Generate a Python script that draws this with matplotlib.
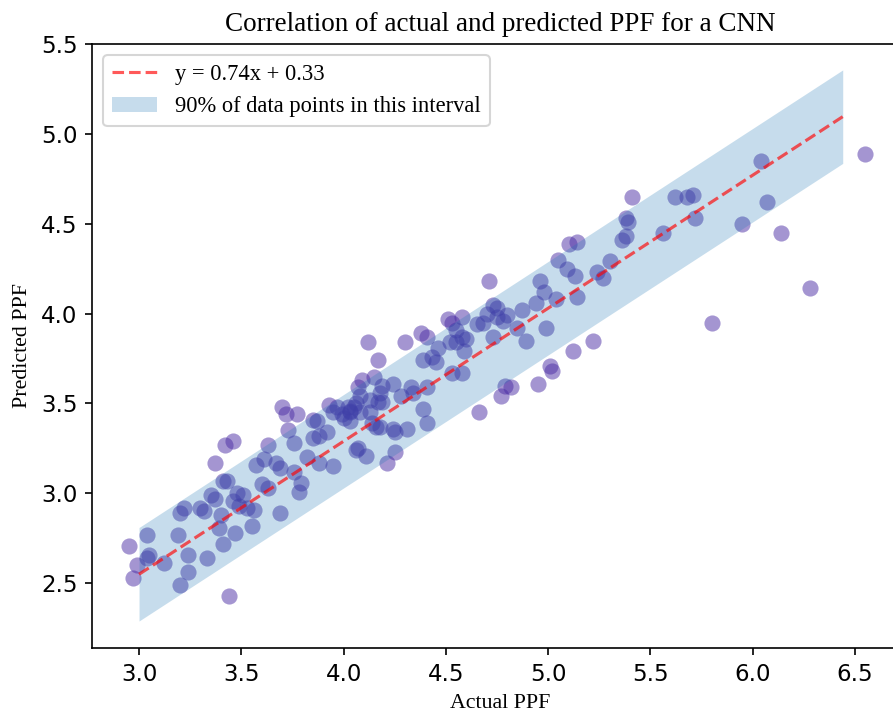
import matplotlib
matplotlib.use("Agg")
import matplotlib.pyplot as plt
import numpy as np

# actual / predicted PPF values
actual = [2.95, 3.04, 2.99, 2.97, 3.04, 3.05, 3.12, 3.20, 3.24, 3.24,
          3.19, 3.33, 3.44, 3.41, 3.39, 3.47, 3.55, 3.20, 3.22, 3.30,
          3.32, 3.35, 3.37, 3.41, 3.43, 3.40, 3.48, 3.51, 3.53, 3.56,
          3.49, 3.42, 3.46, 3.37, 3.57, 3.46, 3.61, 3.67, 3.69, 3.63,
          3.76, 3.79, 3.78, 3.76, 3.85, 3.88, 3.92, 3.95, 3.70, 3.72,
          3.77, 3.73, 3.85, 3.87, 3.93, 3.95, 4.02, 4.03, 4.06, 4.07,
          3.69, 3.60, 3.63, 3.82, 3.88, 4.00, 4.11, 4.12, 4.17, 4.15,
          4.30, 4.38, 4.41, 4.51, 4.53, 4.58, 4.55, 4.58, 4.52, 4.55,
          4.60, 4.59, 4.46, 4.43, 4.39, 4.45, 4.53, 4.58, 4.41, 4.39,
          4.41, 4.34, 4.33, 4.28, 4.24, 4.19, 4.18, 4.17, 4.13, 4.08,
          4.09, 4.06, 4.03, 3.99, 4.08, 4.13, 4.16, 4.24, 4.25, 4.31,
          4.25, 4.21, 4.07, 4.19, 4.05, 3.97, 4.03, 4.14, 4.18, 4.71,
          4.65, 4.68, 4.70, 4.73, 4.75, 4.75, 4.78, 4.80, 4.66, 4.77,
          4.79, 4.82, 4.95, 5.01, 5.02, 5.12, 5.22, 4.89, 4.99, 4.85,
          4.87, 4.94, 4.98, 4.96, 5.04, 5.14, 5.05, 5.09, 5.13, 5.24,
          5.27, 5.30, 5.10, 5.14, 5.38, 5.39, 5.36, 5.38, 5.41, 5.56,
          5.62, 5.68, 5.71, 5.72, 5.80, 5.95, 6.04, 6.07, 6.14, 6.28,
          6.55, 4.73]
predicted = [2.71, 2.77, 2.60, 2.53, 2.64, 2.66, 2.61, 2.49, 2.56, 2.66,
             2.77, 2.64, 2.43, 2.72, 2.81, 2.78, 2.82, 2.89, 2.92, 2.92,
             2.90, 2.99, 2.97, 3.07, 3.07, 2.88, 3.00, 2.99, 2.92, 2.91,
             2.93, 3.27, 3.29, 3.17, 3.16, 2.96, 3.19, 3.17, 3.14, 3.27,
             3.12, 3.06, 3.01, 3.28, 3.31, 3.32, 3.34, 3.15, 3.48, 3.44,
             3.44, 3.35, 3.41, 3.40, 3.49, 3.45, 3.48, 3.45, 3.24, 3.59,
             2.89, 3.05, 3.03, 3.20, 3.17, 3.42, 3.21, 3.84, 3.74, 3.65,
             3.84, 3.89, 3.87, 3.97, 3.95, 3.98, 3.91, 3.87, 3.84, 3.84,
             3.86, 3.79, 3.81, 3.76, 3.74, 3.73, 3.67, 3.67, 3.59, 3.47,
             3.39, 3.56, 3.59, 3.54, 3.61, 3.60, 3.56, 3.51, 3.52, 3.54,
             3.63, 3.50, 3.46, 3.44, 3.45, 3.45, 3.37, 3.36, 3.34, 3.36,
             3.23, 3.17, 3.25, 3.51, 3.48, 3.48, 3.40, 3.39, 3.37, 4.18,
             3.94, 3.95, 4.00, 4.05, 4.03, 3.98, 3.96, 3.99, 3.45, 3.54,
             3.60, 3.59, 3.61, 3.71, 3.68, 3.79, 3.85, 3.85, 3.92, 3.92,
             4.02, 4.06, 4.12, 4.18, 4.08, 4.09, 4.30, 4.25, 4.21, 4.23,
             4.20, 4.29, 4.39, 4.40, 4.53, 4.51, 4.41, 4.43, 4.65, 4.45,
             4.65, 4.65, 4.66, 4.53, 3.95, 4.50, 4.85, 4.62, 4.45, 4.14,
             4.89, 3.87]

slope = 0.74
intercept = 0.33
half_width = 0.26
fit_x = np.array([3.0, 6.44])
fit_y = slope * fit_x + intercept

serif = "Liberation Serif"

fig = plt.figure(figsize=(893 / 150, 716 / 150), dpi=150)
ax = fig.add_axes([0.103, 0.095, 0.914, 0.8436])

ax.scatter(actual, predicted, s=60, color="#4b2da5", alpha=0.5, linewidths=0)
ax.plot(fit_x, fit_y, "r--", alpha=0.65,
        label="y = %.2fx + %.2f" % (slope, intercept))
ax.fill_between(fit_x, fit_y - half_width, fit_y + half_width,
                color="tab:blue", alpha=0.25, linewidth=0,
                label="90% of data points in this interval")

ax.set_xlim(2.77, 6.76)
ax.set_ylim(2.14, 5.50)
ax.set_xticks([3.0, 3.5, 4.0, 4.5, 5.0, 5.5, 6.0, 6.5])
ax.set_yticks([2.5, 3.0, 3.5, 4.0, 4.5, 5.0, 5.5])
ax.tick_params(labelsize=11)

ax.set_title("Correlation of actual and predicted PPF for a CNN",
             fontfamily=serif, fontsize=13)
ax.set_xlabel("Actual PPF", fontfamily=serif, fontsize=10.5)
ax.set_ylabel("Predicted PPF", fontfamily=serif, fontsize=10.5)
ax.legend(loc="upper left", prop={"family": serif, "size": 10.8})

fig.savefig("out.png", dpi=150)
